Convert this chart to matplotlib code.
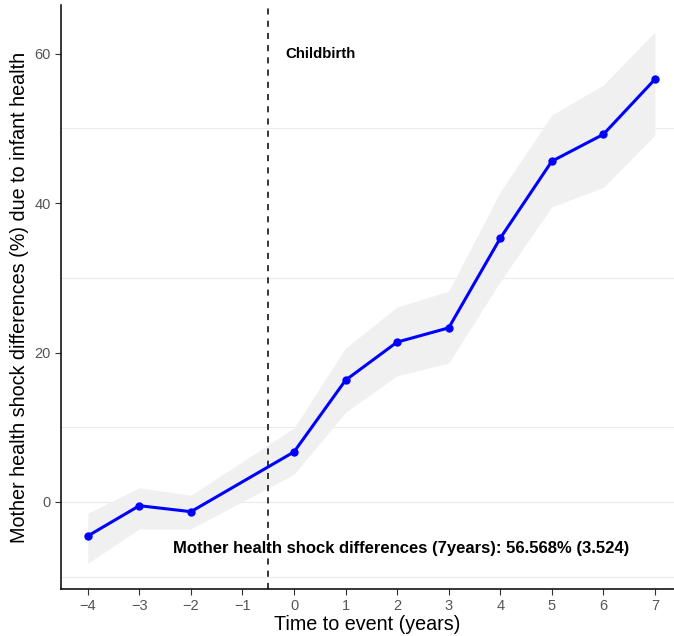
import matplotlib
matplotlib.use('Agg')
import matplotlib.pyplot as plt

# Event-study estimates: mother health shock differences by year
years = [-4, -3, -2, 0, 1, 2, 3, 4, 5, 6, 7]
est = [-4.55, -0.5, -1.3, 6.7, 16.3, 21.4, 23.3, 35.3, 45.6, 49.2, 56.568]
ci_low = [-8.2, -3.6, -3.6, 3.7, 12.0, 16.9, 18.6, 29.5, 39.5, 42.1, 49.1]
ci_high = [-1.5, 1.9, 0.9, 9.9, 20.6, 26.1, 28.2, 41.5, 51.8, 55.8, 62.9]
xticks = [-4, -3, -2, -1, 0, 1, 2, 3, 4, 5, 6, 7]
yticks = [0, 20, 40, 60]
grid_y = [-10, 0, 10, 30, 50]
event_x = -0.5
summary = 'Mother health shock differences (7years): 56.568% (3.524)'

plt.rcParams['font.family'] = ['Liberation Sans', 'DejaVu Sans']

fig = plt.figure(figsize=(6.74, 6.36), dpi=100)
ax = fig.add_axes([0.0905, 0.074, 0.9095, 0.918])

for g in grid_y:
    ax.axhline(g, color='#ebebeb', lw=0.8, zorder=0)

ax.fill_between(years, ci_low, ci_high, color='#f0f0f0', lw=0, zorder=1)
ax.plot(years, est, color='blue', lw=2.2, marker='o', ms=5, zorder=3)
ax.axvline(event_x, color='black', ls=(0, (4, 4)), lw=1.1, zorder=2)

ax.text(0.52, 60, 'Childbirth', fontsize=10.8, fontweight='bold', ha='center', va='center')
ax.text(2.08, -6.2, summary, fontsize=12, fontweight='bold', ha='center', va='center')

ax.set_xlim(-4.52, 7.37)
ax.set_ylim(-11.64, 66.5)
ax.set_xticks(xticks)
ax.set_xticklabels([str(t).replace('-', '\u2212') for t in xticks])
ax.set_yticks(yticks)

for s in ['top', 'right']:
    ax.spines[s].set_visible(False)
for s in ['left', 'bottom']:
    ax.spines[s].set_linewidth(1.1)
ax.tick_params(axis='both', colors='#333333', labelcolor='#555555', labelsize=10.5, length=4, width=0.8)

ax.set_xlabel('Time to event (years)', fontsize=14.2, labelpad=1)
ax.set_ylabel('Mother health shock differences (%) due to infant health', fontsize=14.2, labelpad=4)

fig.savefig('out.png', dpi=100)
